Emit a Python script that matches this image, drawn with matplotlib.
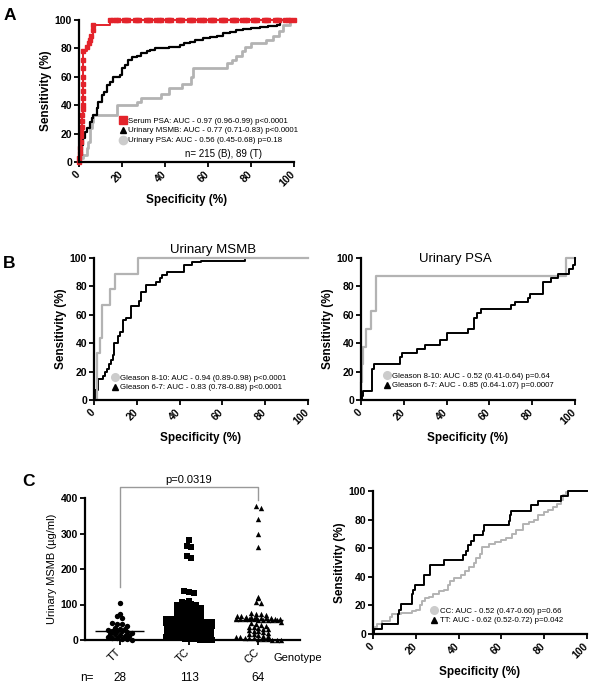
import numpy as np
import matplotlib.pyplot as plt
from matplotlib.lines import Line2D
from matplotlib import transforms

plt.rcParams['font.family'] = ['Liberation Sans', 'DejaVu Sans']

W, H = 594, 687
RED = '#e3232b'
GRAY = '#b3b3b3'
LGRAY = '#cccccc'

# ---- panel A: ROC, all samples ----
serum_spec = [0, 0, 0.5, 0.5, 0.8, 0.8, 1, 1.2, 1.4, 1.6, 1.8, 2, 2, 2, 2, 2, 2, 2, 2,
              3.6, 4.6, 5.1, 5.8, 6.4, 6.7, 14.5,
              16, 17, 18, 21, 22, 23, 26, 27, 28, 31, 32, 33, 36, 37, 38, 41, 42, 43,
              46, 47, 48, 51, 52, 53, 56, 57, 58, 61, 62, 63, 66, 67, 68, 71, 72, 73,
              76, 77, 78, 81, 82, 83, 86, 87, 88, 91, 92, 93, 96, 97, 98, 100]
serum_sens = [0, 3, 6, 10, 14, 18, 21, 25, 29, 33, 37, 40, 45, 50, 55, 60, 66, 72, 78,
              81, 84, 86, 89, 93, 96.5, 100,
              100, 100, 100, 100, 100, 100, 100, 100, 100, 100, 100, 100, 100, 100, 100,
              100, 100, 100, 100, 100, 100, 100, 100, 100, 100, 100, 100, 100, 100, 100,
              100, 100, 100, 100, 100, 100, 100, 100, 100, 100, 100, 100, 100, 100, 100,
              100, 100, 100, 100, 100, 100, 100]
umsmb_spec = [0, 0.5, 1.2, 2, 3, 3.6, 5, 6, 6.7, 8.2, 9, 10.6, 11.4, 12.9, 14.5, 16, 19,
              20, 21.5, 23, 24.6, 27, 29, 31.6, 33, 35.5, 42, 47, 49, 51.6, 54, 57.8, 61,
              64, 67, 70, 73, 76.5, 80, 84, 88, 92, 93.5, 100]
umsmb_sens = [0, 5, 12, 17, 21, 24, 28, 31, 33, 38, 42.5, 47, 49.5, 54, 56.6, 60, 61,
              66, 68, 72, 74, 75, 76.5, 78, 79, 80, 81, 82.4, 83.5, 84.7, 86, 87, 88,
              89, 90.5, 91.8, 93, 94, 94.7, 95.3, 96, 96.5, 100, 100]
upsa_spec = [0, 0.5, 2, 3.6, 4.4, 5, 6, 6.7, 17.6, 27, 29, 38, 42, 48, 52, 53, 68.7, 71,
             73, 75.7, 77, 80, 87, 90, 93, 95, 98, 100]
upsa_sens = [0, 2.6, 5, 9.6, 14, 24, 28, 33, 40, 42.5, 45, 48, 52, 55, 60, 66, 70, 72,
             75, 78, 81, 84, 86, 89, 92, 96.5, 100, 100]

# ---- panel B: ROC by Gleason score ----
bm_hi_spec = [0, 1.5, 2.8, 3.6, 7.5, 9.8, 20.5, 100]
bm_hi_sens = [0, 33, 44, 67, 78, 89, 100, 100]
bm_lo_spec = [0, 0.5, 2, 4, 5, 6, 7, 8, 9, 9.5, 11, 12, 13.5, 15, 17.5, 21, 22, 24.5,
              29, 31, 32, 34, 42, 46, 50, 70.5, 100]
bm_lo_sens = [0, 7, 15, 17, 20, 22, 25, 28, 32, 40, 45, 48, 56, 58, 66, 70, 76, 81,
              83, 86, 88, 90, 95, 97, 98, 100, 100]
bp_hi_spec = [0, 0, 0.5, 1, 2.5, 4.5, 7, 96, 100]
bp_hi_sens = [0, 12.5, 25, 37.5, 50, 62.5, 87.5, 100, 100]
bp_lo_spec = [0, 0.5, 1, 5, 6, 18, 19, 26, 30, 37, 40, 50, 53, 54, 56, 70, 72, 78, 79,
              85, 89, 92, 97, 99, 100]
bp_lo_sens = [0, 3, 6, 22, 25, 30, 33, 36, 39, 42, 47, 50, 58, 61, 64, 67, 69, 72, 75,
              83, 86, 89, 92, 95, 100]

# ---- panel C: MSMB by genotype ----
genotypes = ['TT', 'TC', 'CC']
n_counts = [28, 113, 64]
tt_vals = [105, 73, 67, 62, 48, 46, 44, 40, 35, 32, 30, 28, 26, 25, 24, 22, 20, 18,
           16, 14, 12, 10, 8, 6, 5, 3, 2, 1]
tc_vals = [283, 266, 261, 238, 231, 138, 134, 131,
           110, 106, 104, 102, 100, 98, 96, 95, 93, 91,
           90, 88, 86, 85, 83, 81, 80, 78, 76, 75,
           73, 71, 70, 68, 66, 65, 63, 62, 60, 59,
           58, 57, 56, 55, 54, 53, 52, 51, 50, 50,
           49, 49, 49, 48, 48, 48, 48, 48, 48, 46,
           44, 43, 42, 41, 40, 39, 38, 37, 36, 35,
           34, 33, 32, 31, 30, 29, 28, 27, 26, 25,
           24, 23, 22, 21, 20, 19, 18, 17, 16, 15,
           14, 13, 12, 11, 10, 9, 8, 8, 7, 6,
           6, 5, 5, 4, 4, 3, 3, 2, 2, 1,
           1, 1, 0.5, 0.5, 0.2]
cc_vals = [378, 372, 342, 298, 262, 120, 118, 106, 104,
           75, 74, 72, 70, 68, 67, 66, 65, 64, 63,
           62, 61, 60, 60, 59, 59, 58, 58, 58, 57, 57, 57, 57, 57,
           52, 48, 45, 42, 40, 38, 36, 34, 32, 30,
           28, 26, 24, 22, 20, 18, 16, 14, 12, 10,
           9, 8, 7, 6, 5, 4, 3, 2, 1, 1, 0.5]
tt_roc_spec = [0, 0.5, 4, 11.5, 12, 13, 18, 18.5, 19.5, 24, 26.5, 33, 42, 43.5, 44.5,
               46, 47, 51.5, 52, 63.5, 64, 64.5, 74, 77, 88, 91, 100]
tt_roc_sens = [0, 3.5, 7, 14, 17, 21, 28, 31, 34, 41, 48, 52, 55, 58, 62, 65, 69, 72,
               76, 79, 83, 86, 90, 93, 96.5, 100, 100]
cc_roc_spec = [0, 0.5, 1, 2, 4, 8, 9, 13, 18, 20, 22, 23, 24.5, 26, 28, 31, 33, 35, 36,
               38, 41, 43, 45, 47, 48, 50, 51, 54, 57, 60, 62, 65, 67, 70, 73, 75, 77,
               80, 82, 84, 86, 88, 89, 90, 91, 100]
cc_roc_sens = [0, 3, 5, 7, 9, 12, 14, 15, 16, 17, 20, 23, 25, 26, 28, 30, 31, 34, 37,
               39, 41, 44, 47, 50, 53, 56, 61, 63, 64, 66, 67, 70, 73, 77, 78, 80, 83,
               85, 87, 89, 91, 94, 97, 99, 100, 100]

fig = plt.figure(figsize=(W / 100, H / 100), dpi=100)
shift = transforms.ScaledTranslation(3 / 100, 0, fig.dpi_scale_trans)


def add_ax(l, t, r, b):
    return fig.add_axes([l / W, 1 - b / H, (r - l) / W, (b - t) / H])


def fx(x):
    return x / W


def fy(y):
    return 1 - y / H


def style(ax):
    for s in ['top', 'right']:
        ax.spines[s].set_visible(False)
    for s in ['left', 'bottom']:
        ax.spines[s].set_linewidth(1.6)
    ax.tick_params(width=1.3, length=3.5, labelsize=7.5, pad=1.5)


def rotate_xlabels(ax, **kw):
    for lab in ax.get_xticklabels():
        lab.set_rotation(45)
        lab.set_ha('right')
        lab.set_va('top')
        lab.set(**kw)
        lab.set_transform(lab.get_transform() + shift)


def roc_axes(ax):
    ax.set_xlim(0, 100)
    ax.set_ylim(0, 100)
    ax.set_xticks(range(0, 101, 20))
    ax.set_yticks(range(0, 101, 20))
    style(ax)
    rotate_xlabels(ax, fontweight='bold')
    plt.setp(ax.get_yticklabels(), fontweight='bold')
    ax.set_xlabel('Specificity (%)', fontsize=8.5, fontweight='bold', labelpad=4)
    ax.set_ylabel('Sensitivity (%)', fontsize=8.5, fontweight='bold', labelpad=2)


def step(ax, x, y, **kw):
    ax.plot(x, y, drawstyle='steps-post', clip_on=False, **kw)


def legend_at(ax, handles, labels, x, y, fs=5.7):
    ax.legend(handles, labels, loc='upper left', bbox_to_anchor=(fx(x), fy(y)),
              bbox_transform=fig.transFigure, frameon=False, fontsize=fs,
              handlelength=0.9, handletextpad=0.3, labelspacing=0.3,
              borderaxespad=0, borderpad=0)


def h(marker, color, ms=5.5):
    return Line2D([], [], ls='none', marker=marker, color=color, markersize=ms)


# A
axA = add_ax(79, 20, 294, 162)
roc_axes(axA)
step(axA, upsa_spec, upsa_sens, color=GRAY, lw=2)
step(axA, umsmb_spec, umsmb_sens, color='black', lw=1.6)
step(axA, serum_spec, serum_sens, color=RED, lw=1.4, marker='s', ms=2.2)
legend_at(axA, [h('s', RED, 6), h('^', 'black', 4.5), h('o', LGRAY, 6)],
          ['Serum PSA: AUC - 0.97 (0.96-0.99) p<0.0001',
           'Urinary MSMB: AUC - 0.77 (0.71-0.83) p<0.0001',
           'Urinary PSA: AUC - 0.56 (0.45-0.68) p=0.18'], 119, 117)
fig.text(fx(185), fy(154), 'n= 215 (B), 89 (T)', fontsize=7, va='center')

# B left
axB1 = add_ax(94, 258, 308, 400)
roc_axes(axB1)
step(axB1, bm_lo_spec, bm_lo_sens, color='black', lw=1.4)
step(axB1, bm_hi_spec, bm_hi_sens, color=GRAY, lw=1.6)
legend_at(axB1, [h('o', LGRAY, 5.5), h('^', 'black', 4.5)],
          ['Gleason 8-10: AUC - 0.94 (0.89-0.98) p<0.0001',
           'Gleason 6-7: AUC - 0.83 (0.78-0.88) p<0.0001'], 111, 374)
fig.text(fx(213), fy(250), 'Urinary MSMB', fontsize=9.5, ha='center', va='center')

# B right
axB2 = add_ax(361, 258, 575, 400)
roc_axes(axB2)
step(axB2, bp_hi_spec, bp_hi_sens, color=GRAY, lw=1.6)
step(axB2, bp_lo_spec, bp_lo_sens, color='black', lw=1.4)
legend_at(axB2, [h('o', LGRAY, 5.5), h('^', 'black', 4.5)],
          ['Gleason 8-10: AUC - 0.52 (0.41-0.64) p=0.64',
           'Gleason 6-7: AUC - 0.85 (0.64-1.07) p=0.0007'], 383, 372)
fig.text(fx(455), fy(259), 'Urinary PSA', fontsize=9.5, ha='center', va='center')

# C right
axC2 = add_ax(373, 491, 587, 634)
roc_axes(axC2)
step(axC2, cc_roc_spec, cc_roc_sens, color=GRAY, lw=1.4)
step(axC2, tt_roc_spec, tt_roc_sens, color='black', lw=1.4)
legend_at(axC2, [h('o', LGRAY, 5.5), h('^', 'black', 4.5)],
          ['CC: AUC - 0.52 (0.47-0.60) p=0.66',
           'TT: AUC - 0.62 (0.52-0.72) p=0.042'], 430, 607)


# C left: column scatter, points spread sideways within value bins
def swarm(vals, center, binw=10.0, stepw=0.07, half=0.33):
    vals = np.asarray(vals, dtype=float)
    xs = np.full(len(vals), float(center))
    bins = np.floor(vals / binw)
    for b in np.unique(bins):
        idx = np.where(bins == b)[0]
        n = len(idx)
        off = (np.arange(n) - (n - 1) / 2) * stepw
        if n > 1 and off.max() > half:
            off = np.linspace(-half, half, n)
        xs[idx] = center + off
    return xs


axC1 = add_ax(85, 498, 300, 640)
style(axC1)
axC1.set_xlim(0.5, 3.6)
axC1.set_ylim(0, 400)
axC1.set_yticks([0, 100, 200, 300, 400])
plt.setp(axC1.get_yticklabels(), fontweight='bold')
axC1.set_xticks([1, 2, 3])
axC1.set_xticklabels(genotypes, fontsize=8)
rotate_xlabels(axC1)
axC1.set_ylabel('Urinary MSMB (µg/ml)', fontsize=8, labelpad=3)

for i, (vals, mk, ms) in enumerate([(tt_vals, 'o', 15), (tc_vals, 's', 13), (cc_vals, '^', 15)]):
    pos = i + 1
    axC1.scatter(swarm(vals, pos), vals, marker=mk, s=ms, color='black', lw=0, clip_on=False)
    axC1.hlines(np.median(vals), pos - 0.35, pos + 0.35, color='black', lw=1)

axC1.plot([1, 1, 3, 3], [150, 431, 431, 393], color='#999999', lw=1, clip_on=False)
axC1.text(2, 437, 'p=0.0319', ha='center', va='bottom', fontsize=8)
fig.text(fx(273), fy(658), 'Genotype', fontsize=8, va='center')

tr = transforms.blended_transform_factory(axC1.transData, fig.transFigure)
fig.text(fx(80), fy(678), 'n=', fontsize=8.5, va='center')
for i, n in enumerate(n_counts):
    axC1.text(i + 1, fy(678), str(n), transform=tr, ha='center', va='center', fontsize=8.5)

# panel letters
fig.text(fx(4), fy(15), 'A', fontsize=12.5, fontweight='bold', va='center')
fig.text(fx(3), fy(264), 'B', fontsize=12.5, fontweight='bold', va='center')
fig.text(fx(22), fy(481), 'C', fontsize=12.5, fontweight='bold', va='center')

fig.savefig('out.png', dpi=100)
